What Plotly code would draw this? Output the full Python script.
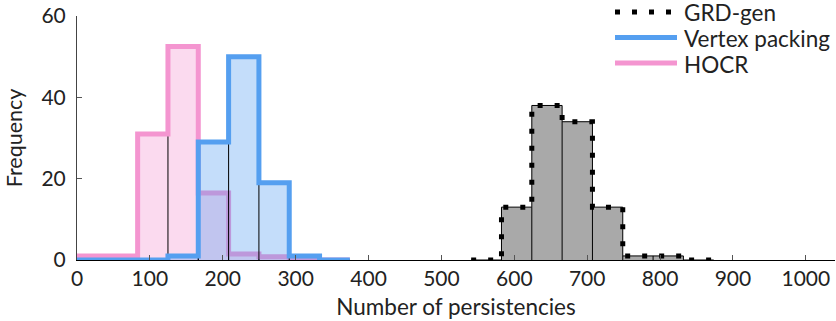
import numpy as np
import plotly.graph_objects as go

# ---- data ----
bin_width = 41.6
hocr_start_bin = 0
hocr_counts = [1, 1, 31, 52.5, 16.5, 1.5, 0.8, 0, 0]
vertex_start_bin = 0
vertex_counts = [0, 0, 0, 1, 29, 50, 19, 1, 0]
grd_start_bin = 13
grd_counts = [0, 13, 38, 34, 13, 1, 1, 0]
x_ticks = [0, 100, 200, 300, 400, 500, 600, 700, 800, 900, 1000]
y_ticks = [0, 20, 40, 60]
legend_names = ["GRD-gen", "Vertex packing", "HOCR"]

FONT = "Lato"
FS = 21

PINK = "#F495D0"
BLUE = "#559FF0"

W, H = 836, 321
ML, MR, MT, MB = 77, 1, 16, 61
PW, PH = W - ML - MR, H - MT - MB

fig = go.Figure()


def edges_for(start_bin, counts):
    return (np.arange(len(counts) + 1) + start_bin) * bin_width


def step_xy(edges, counts):
    xs, ys = [edges[0]], [0]
    for i, c in enumerate(counts):
        xs += [edges[i], edges[i + 1]]
        ys += [c, c]
    xs.append(edges[-1])
    ys.append(0)
    return xs, ys


def add_series(name, start_bin, counts, fill, line_color, dash, width):
    e = edges_for(start_bin, counts)
    xs, ys = step_xy(e, counts)
    # filled bars
    fig.add_trace(go.Scatter(x=xs, y=ys, mode="lines", fill="toself",
                             fillcolor=fill, line=dict(width=0),
                             showlegend=False, hoverinfo="skip"))
    # thin black bar outlines
    ox, oy = list(xs), list(ys)
    for i in range(1, len(counts)):
        h = min(counts[i - 1], counts[i])
        ox += [None, e[i], e[i]]
        oy += [None, 0, h]
    fig.add_trace(go.Scatter(x=ox, y=oy, mode="lines",
                             line=dict(color="black", width=1),
                             showlegend=False, hoverinfo="skip"))
    # thick step line
    fig.add_trace(go.Scatter(x=xs, y=ys, mode="lines", name=name,
                             line=dict(color=line_color, width=width, dash=dash),
                             showlegend=False))


add_series("HOCR", hocr_start_bin, hocr_counts,
           "rgba(244,149,208,0.35)", PINK, "solid", 5)
add_series("Vertex packing", vertex_start_bin, vertex_counts,
           "rgba(85,159,240,0.35)", BLUE, "solid", 5)
add_series("GRD-gen", grd_start_bin, grd_counts,
           "#A9A9A9", "black", "5px,12px", 5)

# ---- legend (drawn in paper coordinates) ----
def px_x(p):
    return (p - ML) / PW


def px_y(p):
    return (H - MB - p) / PH


legend_styles = [("black", "5px,12px"), (BLUE, "solid"), (PINK, "solid")]
legend_rows_px = [13, 38.5, 64]
for name, (col, dash), ry in zip(legend_names, legend_styles, legend_rows_px):
    fig.add_shape(type="line", xref="paper", yref="paper",
                  x0=px_x(615), x1=px_x(677), y0=px_y(ry - 1), y1=px_y(ry - 1),
                  line=dict(color=col, width=5, dash=dash))
    fig.add_annotation(xref="paper", yref="paper", x=px_x(682), y=px_y(ry),
                       xanchor="left", yanchor="middle", showarrow=False,
                       text=name, font=dict(family=FONT, size=22.5, color="#222"))

fig.update_layout(
    width=W, height=H,
    margin=dict(l=ML, r=MR, t=MT, b=MB, autoexpand=False),
    paper_bgcolor="white", plot_bgcolor="white",
    font=dict(family=FONT, size=FS, color="#222"),
    showlegend=False,
)
fig.update_xaxes(range=[0, 1040], tickvals=x_ticks, ticks="inside", ticklen=5,
                 tickcolor="#555", showline=True, linecolor="black", linewidth=1,
                 showgrid=False, zeroline=False,
                 title=dict(text="Number of persistencies", standoff=10,
                            font=dict(family=FONT, size=22.5, color="#222")))
fig.update_yaxes(range=[0, 60], tickvals=y_ticks, ticks="inside", ticklen=5,
                 tickcolor="#555", showline=True, linecolor="#444", linewidth=1,
                 showgrid=False, zeroline=False, ticklabelstandoff=6,
                 title=dict(text="Frequency", standoff=12,
                            font=dict(family=FONT, size=21.5, color="#222")))

fig.write_html("out.html")
